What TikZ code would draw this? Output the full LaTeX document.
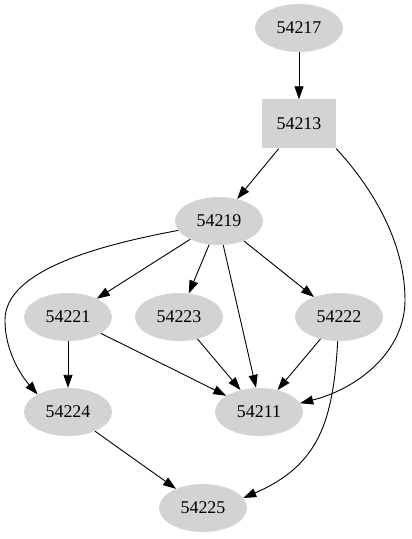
\documentclass[tikz,border=0pt]{standalone}
\usepackage{fontspec}
\setmainfont{Liberation Serif}
\usetikzlibrary{arrows.meta, shapes.geometric}
\definecolor{grisnodo}{HTML}{D3D3D3}
\tikzset{
  nodoBase/.style={
    fill=grisnodo, draw=none, inner sep=0pt,
    font=\fontsize{18}{20}\selectfont, text=black
  },
  nodoElipse/.style={nodoBase, ellipse, minimum width=88bp, minimum height=48bp},
  nodoCaja/.style={nodoBase, rectangle, minimum width=74bp, minimum height=49bp},
  flecha/.style={-{Triangle[length=13bp, width=9bp]}, line width=0.9bp, black},
}

\begin{document}
\begin{tikzpicture}[x=1bp, y=-1bp]
    \useasboundingbox (0,0) rectangle (411,539);
    \node[nodoElipse] (n54217) at (299,28) {54217};
    \node[nodoCaja]   (n54213) at (299,124) {54213};
    \node[nodoElipse] (n54219) at (219,221) {54219};
    \node[nodoElipse] (n54221) at (68,317) {54221};
    \node[nodoElipse] (n54223) at (179,317) {54223};
    \node[nodoElipse] (n54222) at (339,317) {54222};
    \node[nodoElipse] (n54224) at (68,412) {54224};
    \node[nodoElipse] (n54211) at (259,412) {54211};
    \node[nodoElipse] (n54225) at (203,508) {54225};
    \draw[flecha] (n54217) -- (n54213);
    \draw[flecha] (n54213) -- (n54219);
    \draw[flecha] (n54213.south east) .. controls (370,185) and (405,240) .. (405,300)
                  .. controls (405,350) and (360,388) .. (n54211.12);
    \draw[flecha] (n54219.193) .. controls (100,245) and (5,270) .. (5,320)
                  .. controls (5,355) and (25,380) .. (n54224.150);
    \draw[flecha] (n54219) -- (n54221);
    \draw[flecha] (n54219) -- (n54223);
    \draw[flecha] (n54219.-80) -- (n54211.97);
    \draw[flecha] (n54219) -- (n54222);
    \draw[flecha] (n54221) -- (n54224);
    \draw[flecha] (n54221) -- (n54211);
    \draw[flecha] (n54223) -- (n54211);
    \draw[flecha] (n54222) -- (n54211);
    \draw[flecha] (n54222.-93) .. controls (333,420) and (320,465) .. (n54225.14);
    \draw[flecha] (n54224) -- (n54225);
  \end{tikzpicture}
\end{document}
